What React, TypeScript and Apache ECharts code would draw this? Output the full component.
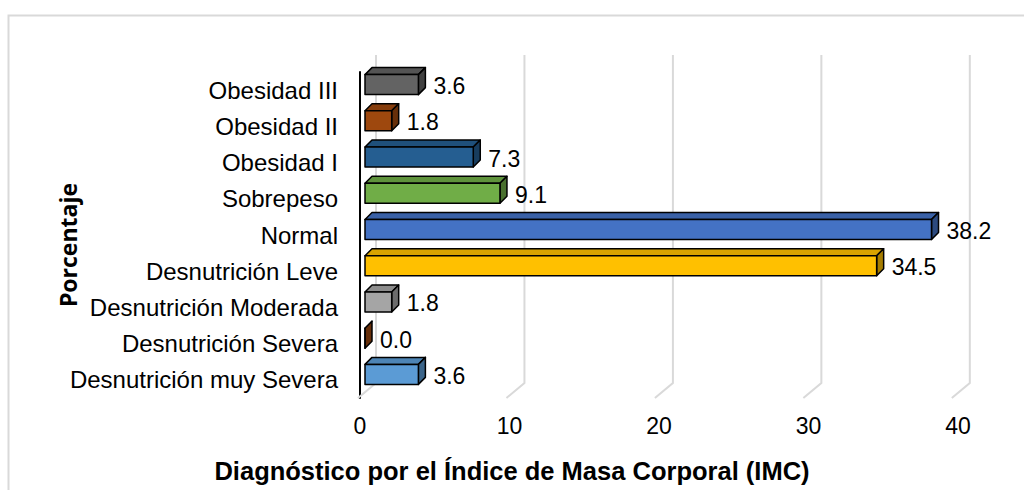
import React, { useEffect, useRef } from "react";
import * as echarts from "echarts";

// Categories listed bottom-to-top (category axis starts at the bottom)
const categories = [
  "Desnutrición muy Severa",
  "Desnutrición Severa",
  "Desnutrición Moderada",
  "Desnutrición Leve",
  "Normal",
  "Sobrepeso",
  "Obesidad I",
  "Obesidad II",
  "Obesidad III",
];
const values = [3.6, 0.0, 1.8, 34.5, 38.2, 9.1, 7.3, 1.8, 3.6];
const barColors = [
  "#5B9BD5",
  "#9E480E",
  "#A5A5A5",
  "#FFC000",
  "#4472C4",
  "#70AD47",
  "#255E91",
  "#9E480E",
  "#636363",
];
const xTicks = [0, 10, 20, 30, 40];
const xTitle = "Diagnóstico por el Índice de Masa Corporal (IMC)";
const yTitle = "Porcentaje";

const FONT = "'Liberation Sans', Arial, sans-serif";

function shade(hex: string, f: number): string {
  const n = parseInt(hex.slice(1), 16);
  const r = Math.round(((n >> 16) & 255) * f);
  const g = Math.round(((n >> 8) & 255) * f);
  const b = Math.round((n & 255) * f);
  return "rgb(" + r + "," + g + "," + b + ")";
}

export default function App() {
  const ref = useRef<HTMLDivElement>(null);
  useEffect(() => {
    if (!ref.current) return;
    const chart = echarts.init(ref.current, null, { renderer: "svg" });
    const DX = 7;
    const DY = 7;
    const H = 20;
    const option: any = {
      animation: false,
      backgroundColor: "#ffffff",
      grid: { left: 360, right: 66, top: 72, bottom: 92 },
      xAxis: {
        type: "value",
        min: 0,
        max: 40,
        interval: 10,
        axisLine: { show: false },
        axisTick: { show: false },
        splitLine: { show: false },
        axisLabel: { fontSize: 23, color: "#000", fontFamily: FONT, margin: 16 },
      },
      yAxis: {
        type: "category",
        data: categories,
        offset: 2,
        axisLine: { show: true, lineStyle: { color: "#000", width: 2 } },
        axisTick: { show: false },
        splitLine: { show: false },
        axisLabel: { fontSize: 24, color: "#000", fontFamily: FONT, margin: 20 },
      },
      graphic: [
        {
          type: "rect",
          shape: { x: 8.5, y: 15.5, width: 1100, height: 600 },
          style: { fill: "none", stroke: "#d9d9d9", lineWidth: 2 },
          z: -10,
          silent: true,
        },
        {
          type: "text",
          x: 512,
          y: 471,
          style: {
            text: xTitle,
            font: "bold 25.5px " + FONT,
            fill: "#000",
            textAlign: "center",
            textVerticalAlign: "middle",
          },
        },
        {
          type: "text",
          x: 68,
          y: 245,
          rotation: Math.PI / 2,
          style: {
            text: yTitle,
            font: "bold 23px 'Open Sans', sans-serif",
            fill: "#000",
            textAlign: "center",
            textVerticalAlign: "middle",
          },
        },
      ],
      series: [
        {
          type: "custom",
          name: "grid",
          clip: false,
          silent: true,
          z: 1,
          data: xTicks.map((t) => [t, 0]),
          encode: { x: 0, y: 1 },
          renderItem: (params: any, api: any) => {
            const t = api.value(0);
            const o = api.coord([0, 0])[0];
            const x = o + 16 + (api.coord([t, 0])[0] - o) * 0.993;
            const cs = params.coordSys;
            const yTop = cs.y - 17;
            const yBot = cs.y + cs.height - 15;
            return {
              type: "polyline",
              shape: { points: [[x, yTop], [x, yBot], [x - 18, yBot + 15]] },
              style: { stroke: "#d9d9d9", lineWidth: 2, fill: "none" },
            };
          },
        },
        {
          type: "custom",
          name: "IMC",
          clip: false,
          z: 5,
          data: values.map((v, i) => [v, i]),
          encode: { x: 0, y: 1 },
          renderItem: (params: any, api: any) => {
            const v = api.value(0);
            const ci = api.value(1);
            const p0 = api.coord([0, ci]);
            const p1 = api.coord([v, ci]);
            const x0 = p0[0] + 5;
            const x1 = x0 + (p1[0] - p0[0]) * 0.992;
            const cy = p0[1] - 5.5;
            const top = cy - H / 2;
            const bot = cy + H / 2;
            const c = barColors[params.dataIndex];
            const stroke = { stroke: "#000", lineWidth: 1.5, lineJoin: "round" };
            return {
              type: "group",
              children: [
                {
                  type: "polygon",
                  shape: { points: [[x0, top], [x1, top], [x1 + DX, top - DY], [x0 + DX, top - DY]] },
                  style: { fill: shade(c, 0.85), ...stroke },
                },
                {
                  type: "polygon",
                  shape: { points: [[x1, top], [x1 + DX, top - DY], [x1 + DX, bot - DY], [x1, bot]] },
                  style: { fill: shade(c, 0.65), ...stroke },
                },
                {
                  type: "rect",
                  shape: { x: x0, y: top, width: x1 - x0, height: H },
                  style: { fill: c, ...stroke },
                },
                {
                  type: "text",
                  x: x1 + 15,
                  y: cy + 1.5,
                  style: {
                    text: v.toFixed(1),
                    font: "23px " + FONT,
                    fill: "#000",
                    textAlign: "left",
                    textVerticalAlign: "middle",
                  },
                },
              ],
            };
          },
        },
      ],
    };
    chart.setOption(option);
    return () => chart.dispose();
  }, []);
  return (
    <div
      ref={ref}
      style={{ position: "fixed", left: 0, top: 0, width: 1024, height: 490 }}
    />
  );
}
